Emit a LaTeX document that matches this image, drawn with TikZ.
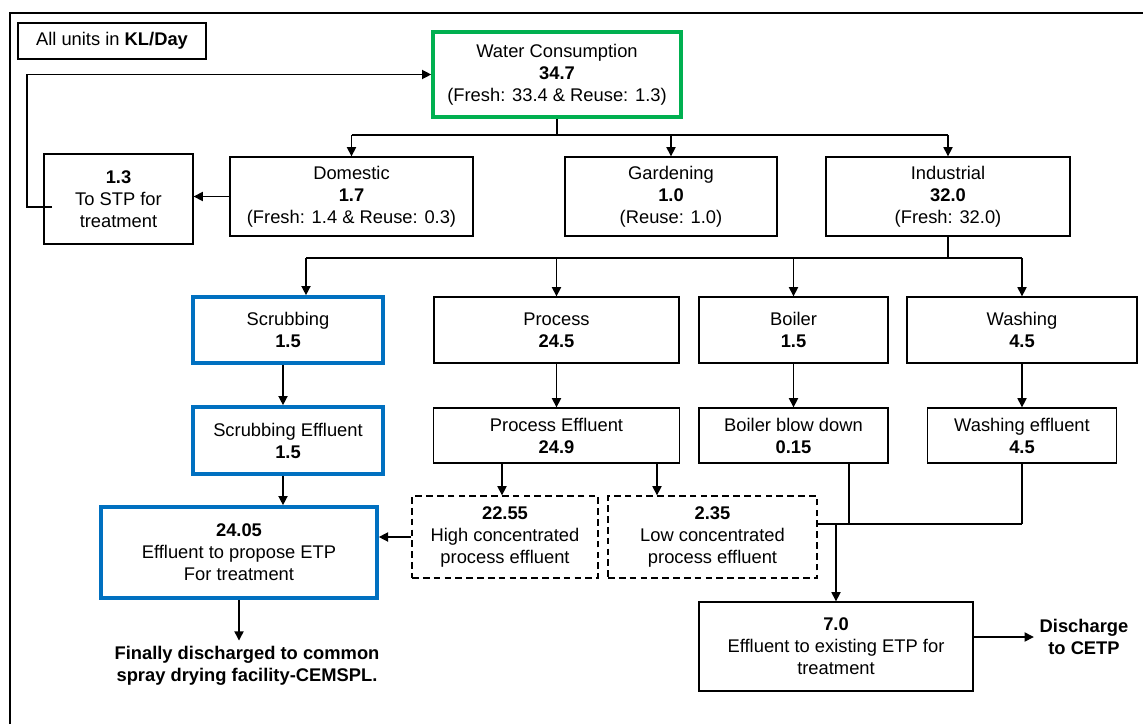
\documentclass[tikz,border=0pt]{standalone}
\usepackage{fontspec}
\setmainfont{Liberation Sans}
\usetikzlibrary{arrows.meta}

\definecolor{boxgreen}{RGB}{0,176,80}
\definecolor{boxblue}{RGB}{0,112,192}
\newcommand\diagfont{\fontsize{11}{13.2}\selectfont}

\tikzset{
  flowbox/.style={draw, line width=0.8pt, align=center, inner sep=2pt},
  greenbox/.style={flowbox, draw=boxgreen, line width=2.2pt},
  bluebox/.style={flowbox, draw=boxblue, line width=2.2pt},
  dashbox/.style={flowbox, dash pattern=on 4pt off 2.5pt},
  sz/.style 2 args={minimum width=#1*0.6pt, minimum height=#2*0.6pt},
  ln/.style={line width=0.8pt},
  arr/.style={line width=0.8pt, -{Triangle[length=5.5pt,width=5.5pt]}},
}

\begin{document}
\begin{tikzpicture}[x=0.6pt, y=-0.6pt, font=\diagfont]
  \useasboundingbox (0,0) rectangle (1143,724);
  % --- frame ---
  \draw[line width=0.9pt] (10,724) -- (10,13) -- (1143,13);

  % --- top level ---
  \node[flowbox, sz={188}{36}] (units) at (112,41) {All units in \textbf{KL/Day}};
  \node[greenbox, sz={248}{85}] (water) at (557,74.5) {Water Consumption\\\textbf{34.7}\\(Fresh: 33.4 \& Reuse: 1.3)};
  \node[flowbox, sz={149}{90}] (stp) at (118.5,199) {\textbf{1.3}\\To STP for\\treatment};
  \node[flowbox, sz={243}{79}] (domestic) at (351.5,196.5) {Domestic\\\textbf{1.7}\\(Fresh: 1.4 \& Reuse: 0.3)};
  \node[flowbox, sz={212}{79}] (gardening) at (671,196.5) {Gardening\\\textbf{1.0}\\(Reuse: 1.0)};
  \node[flowbox, sz={244}{79}] (industrial) at (948,196.5) {Industrial\\\textbf{32.0}\\(Fresh: 32.0)};

  % --- industrial uses ---
  \node[bluebox, sz={190}{66}] (scrubbing) at (288,330) {Scrubbing\\\textbf{1.5}};
  \node[flowbox, sz={245}{66}] (process) at (556.5,330) {Process\\\textbf{24.5}};
  \node[flowbox, sz={189}{66}] (boiler) at (793.5,330) {Boiler\\\textbf{1.5}};
  \node[flowbox, sz={230}{66}] (washing) at (1022,330) {Washing\\\textbf{4.5}};

  % --- effluents ---
  \node[bluebox, sz={190}{67}] (scrubeff) at (288,440.5) {Scrubbing Effluent\\\textbf{1.5}};
  \node[flowbox, sz={246}{55}] (proceff) at (556.5,435.5) {Process Effluent\\\textbf{24.9}};
  \node[flowbox, sz={189}{55}] (blowdown) at (793.5,435.5) {Boiler blow down\\\textbf{0.15}};
  \node[flowbox, sz={189}{55}] (washeff) at (1022,435.5) {Washing effluent\\\textbf{4.5}};

  % --- treatment ---
  \node[bluebox, sz={276}{91}] (etpnew) at (239,552.5) {\textbf{24.05}\\Effluent to propose ETP\\For treatment};
  \node[dashbox, sz={186}{82}] (highconc) at (505,537) {\textbf{22.55}\\High concentrated\\process effluent};
  \node[dashbox, sz={209}{82}] (lowconc) at (712.5,537) {\textbf{2.35}\\Low concentrated\\process effluent};
  \node[flowbox, sz={274}{89}] (etpold) at (836,646.5) {\textbf{7.0}\\Effluent to existing ETP for\\treatment};
  \node[font=\diagfont\bfseries, align=center] (spray) at (247,666) {Finally discharged to common\\spray drying facility-CEMSPL.};
  \node[font=\diagfont\bfseries, align=center] (cetp) at (1084,637) {Discharge\\to CETP};

  % --- junctions ---
  \coordinate (split1) at (557,135);
  \coordinate (split2) at (948,258);
  \coordinate (scrubin) at (306,258);
  \coordinate (scrubx) at (283,0);
  \coordinate (highx) at (502,0);
  \coordinate (lowx) at (657,0);
  \coordinate (bdx) at (849,0);
  \coordinate (merge) at (836,524);
  \coordinate (loopin) at (52,207);
  \coordinate (loopout) at (27,207);

  % --- connectors ---
  \draw[ln] (water.south) -- (split1);
  \draw[ln] (domestic.north |- split1) -- (industrial.north |- split1);
  \draw[arr] (domestic.north |- split1) -- (domestic.north);
  \draw[arr] (gardening.north |- split1) -- (gardening.north);
  \draw[arr] (industrial.north |- split1) -- (industrial.north);
  \draw[arr] (domestic.west) -- (domestic.west -| stp.east);
  \draw[arr] (loopin) -- (loopout) |- (water.west);

  \draw[ln] (industrial.south) -- (split2);
  \draw[ln] (scrubin) -- (washing.north |- split2);
  \draw[arr] (scrubin) -- (scrubin |- scrubbing.north);
  \draw[arr] (process.north |- split2) -- (process.north);
  \draw[arr] (boiler.north |- split2) -- (boiler.north);
  \draw[arr] (washing.north |- split2) -- (washing.north);

  \draw[arr] (scrubbing.south -| scrubx) -- (scrubeff.north -| scrubx);
  \draw[arr] (process.south) -- (proceff.north);
  \draw[arr] (boiler.south) -- (blowdown.north);
  \draw[arr] (washing.south) -- (washeff.north);

  \draw[arr] (scrubeff.south -| scrubx) -- (etpnew.north -| scrubx);
  \draw[arr] (proceff.south -| highx) -- (highconc.north -| highx);
  \draw[arr] (proceff.south -| lowx) -- (lowconc.north -| lowx);
  \draw[arr] (highconc.west) -- (highconc.west -| etpnew.east);
  \draw[ln] (blowdown.south -| bdx) -- (bdx |- merge);
  \draw[ln] (washeff.south) -- (washeff.south |- merge);
  \draw[ln] (lowconc.east |- merge) -- (washeff.south |- merge);
  \draw[arr] (merge) -- (etpold.north -| merge);
  \draw[arr] (etpnew.south) -- (etpnew.south |- spray.north);
  \draw[arr] (etpold.east |- cetp) -- (cetp.west);
\end{tikzpicture}
\end{document}
